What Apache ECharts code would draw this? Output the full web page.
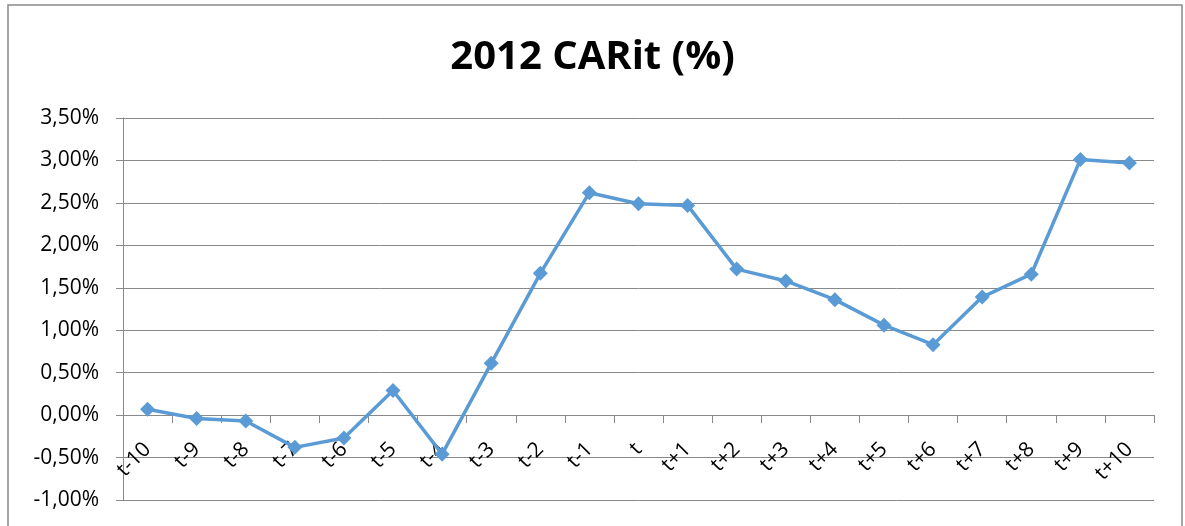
<!DOCTYPE html>
<html>
<head>
<meta charset="utf-8">
<script src="https://cdn.jsdelivr.net/npm/echarts@6/dist/echarts.min.js"></script>
<style>
  html, body { margin: 0; padding: 0; background: #fff; }
  #chart { width: 1185px; height: 526px; }
</style>
</head>
<body>
<div id="chart"></div>
<script>
// Event window around the announcement day
const categories = ['t-10', 't-9', 't-8', 't-7', 't-6', 't-5', 't-4', 't-3', 't-2', 't-1', 't',
  't+1', 't+2', 't+3', 't+4', 't+5', 't+6', 't+7', 't+8', 't+9', 't+10'];
// Cumulative abnormal return, in percent
const carValues = [0.07, -0.04, -0.07, -0.38, -0.27, 0.29, -0.46, 0.61, 1.67, 2.62, 2.49,
  2.47, 1.72, 1.58, 1.36, 1.06, 0.83, 1.39, 1.66, 3.01, 2.97];
const titleText = '2012 CARit (%)';

const FONT = '"Open Sans", "Noto Sans", sans-serif';
const GRAY = '#898989';

const Y_MIN = -1, Y_MAX = 3.5;
const GRID = { left: 123, right: 31, top: 118, bottom: 26 };
const PLOT_H = 526 - GRID.top - GRID.bottom;
// distance from the bottom of the plot up to the 0 % line
const zeroLift = PLOT_H * (0 - Y_MIN) / (Y_MAX - Y_MIN);

const chart = echarts.init(document.getElementById('chart'));
chart.setOption({
  backgroundColor: '#ffffff',
  animation: false,
  title: {
    text: titleText,
    left: 'center',
    top: 33,
    textStyle: { fontFamily: FONT, fontSize: 40, fontWeight: 'bold', color: '#000' }
  },
  graphic: [{
    type: 'rect',
    shape: { x: 8, y: 5, width: 1174, height: 530 },
    style: { fill: 'none', stroke: GRAY, lineWidth: 1.5 },
    silent: true
  }],
  grid: Object.assign({ containLabel: false, outerBoundsMode: 'none' }, GRID),
  xAxis: [{
    // category axis drawn across the 0 % line, ticks between categories
    type: 'category',
    data: categories,
    boundaryGap: true,
    axisLine: { show: true, onZero: true, lineStyle: { color: GRAY, width: 1 } },
    axisTick: { show: true, alignWithLabel: false, length: 8, lineStyle: { color: GRAY } },
    axisLabel: { show: false },
    splitLine: { show: false }
  }, {
    // labels only, lifted up to sit under the 0 % line
    type: 'category',
    data: categories,
    position: 'bottom',
    offset: -zeroLift,
    boundaryGap: true,
    axisLine: { show: false },
    axisTick: { show: false },
    axisLabel: {
      rotate: 45, margin: 31, interval: 0,
      fontFamily: FONT, fontSize: 21, color: '#000'
    },
    splitLine: { show: false }
  }],
  yAxis: {
    type: 'value',
    min: Y_MIN, max: Y_MAX, interval: 0.5,
    axisLine: { show: true, lineStyle: { color: GRAY, width: 1 } },
    axisTick: { show: true, length: 7, lineStyle: { color: GRAY } },
    axisLabel: {
      margin: 24,
      fontFamily: FONT, fontSize: 21, color: '#000',
      formatter: v => v.toFixed(2).replace('.', ',') + '%'
    },
    splitLine: { show: true, lineStyle: { color: GRAY, width: 1 } }
  },
  series: [{
    type: 'line',
    xAxisIndex: 0,
    data: carValues,
    symbol: 'diamond',
    symbolSize: 15,
    lineStyle: { color: '#5B9BD5', width: 3.5 },
    itemStyle: { color: '#5B9BD5' },
    z: 5
  }]
});
</script>
</body>
</html>
